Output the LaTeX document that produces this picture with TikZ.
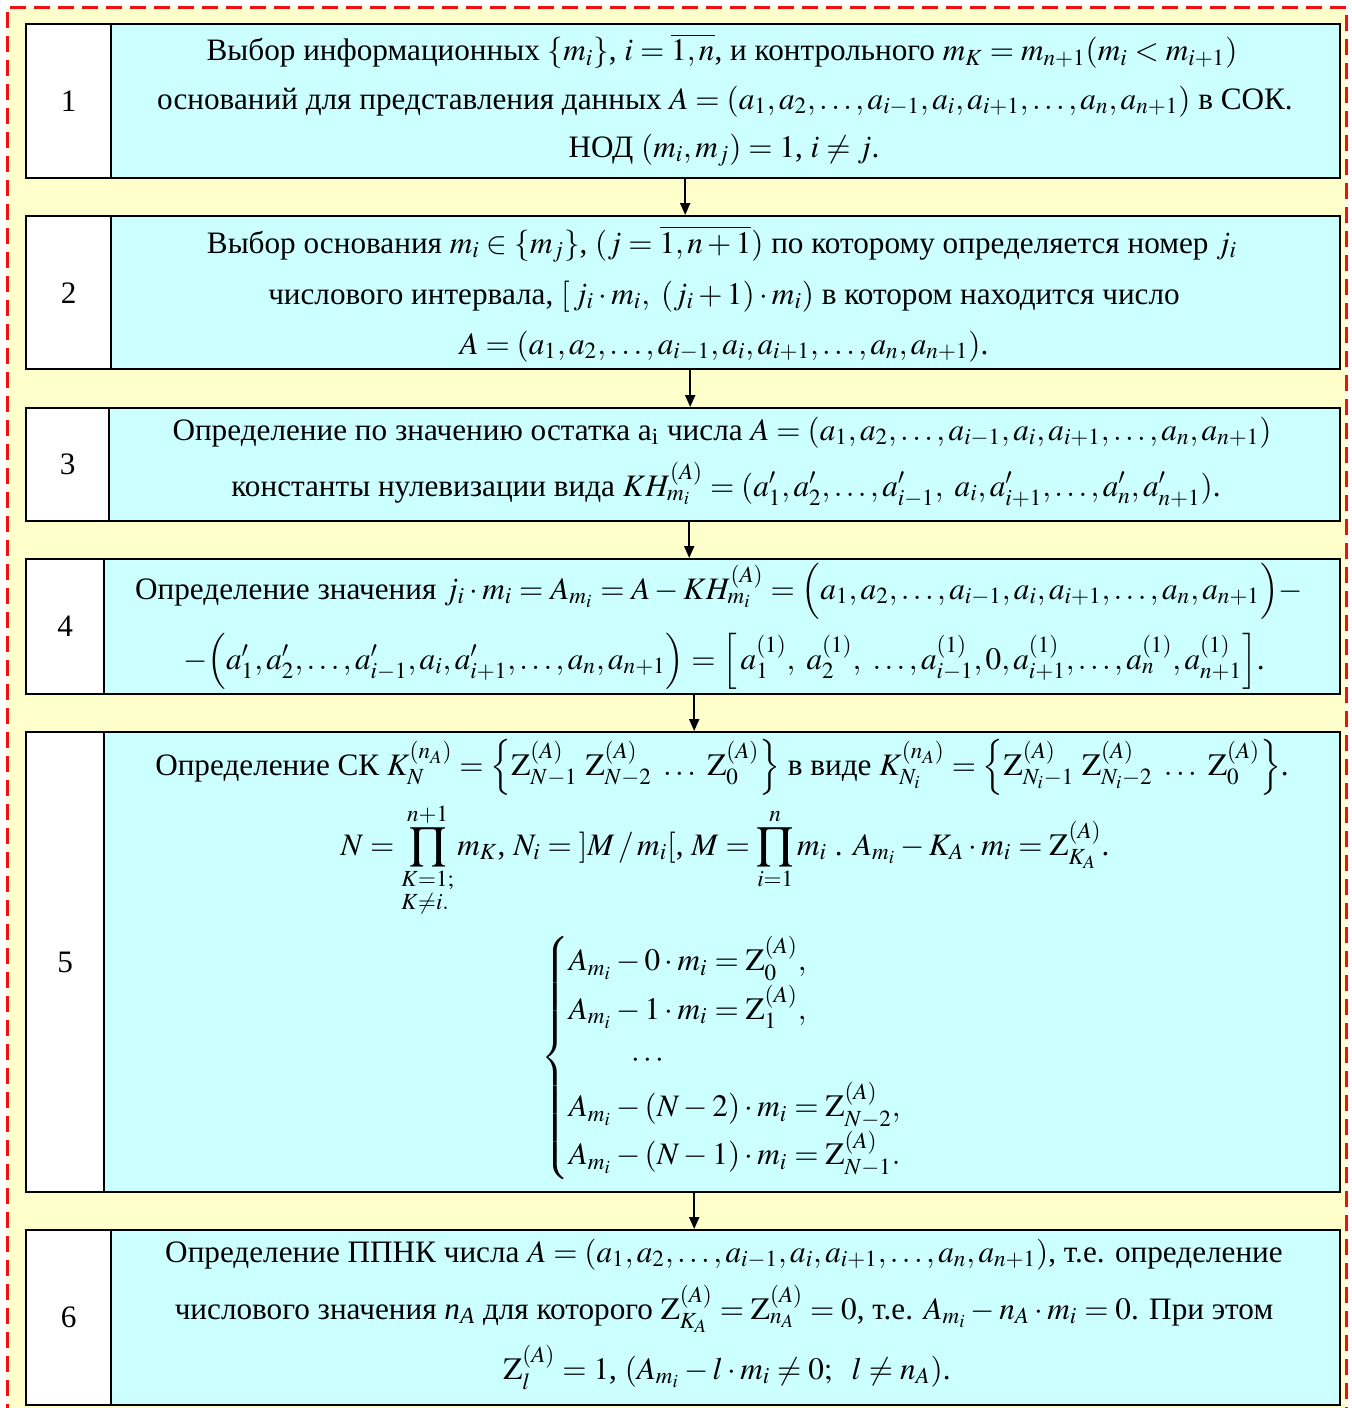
\documentclass[tikz,border=0pt]{standalone}
\usepackage{amsmath}
\usepackage{mathptmx}
\usepackage[no-math]{fontspec}
\setmainfont{Liberation Serif}
\usetikzlibrary{arrows.meta}
\definecolor{bgyellow}{HTML}{FFFFCC}
\definecolor{cellcyan}{HTML}{CCFFFF}
\definecolor{dashred}{HTML}{F01010}
\newcommand{\myZ}{\mathrm{Z}}
\tikzset{
  boxstyle/.style={draw=black, line width=1.2pt, fill=cellcyan, rectangle, inner sep=0pt, anchor=north west},
  numcell/.style={draw=black, line width=1.2pt, fill=white, rectangle, inner sep=0pt, anchor=north west, font=\fontsize{15.6}{18.7}\selectfont},
  txt/.style={inner sep=0pt, anchor=base, font=\fontsize{15.6}{18.7}\selectfont},
  arr/.style={line width=1pt, -{Triangle[width=5pt,length=6pt]}},
}
\begin{document}
\begin{tikzpicture}[x=0.5pt,y=-0.5pt]
\useasboundingbox (0,0) rectangle (1352,1408);
\clip (0,0) rectangle (1352,1408);
\fill[bgyellow] (7,7) rectangle (1346,1420);
\draw[dashred, line width=1.5pt, dash pattern=on 8pt off 4pt] (7,1420) -- (7,7) -- (1346,7) -- (1346,1420);

% boxes
\node[boxstyle, minimum width=657pt, minimum height=77pt] (b1) at (25,23) {};
\node[numcell, minimum width=42.5pt, minimum height=77pt] (n1) at (25,23) {1};
\node[boxstyle, minimum width=657pt, minimum height=76.5pt] (b2) at (25,215) {};
\node[numcell, minimum width=42.5pt, minimum height=76.5pt] (n2) at (25,215) {2};
\node[boxstyle, minimum width=657pt, minimum height=56.5pt] (b3) at (25,407) {};
\node[numcell, minimum width=41.5pt, minimum height=56.5pt] (n3) at (25,407) {3};
\node[boxstyle, minimum width=657pt, minimum height=67.5pt] (b4) at (25,558) {};
\node[numcell, minimum width=39pt, minimum height=67.5pt] (n4) at (25,558) {4};
\node[boxstyle, minimum width=657pt, minimum height=230pt] (b5) at (25,731) {};
\node[numcell, minimum width=39pt, minimum height=230pt] (n5) at (25,731) {5};
\node[boxstyle, minimum width=657pt, minimum height=87.5pt] (b6) at (25,1229) {};
\node[numcell, minimum width=42.5pt, minimum height=87.5pt] (n6) at (25,1229) {6};

% box 1 text
\node[txt] (t11) at (722,61) {Выбор информационных $\{m_i\}$, $i=\overline{1,n}$, и контрольного $m_K=m_{n+1}(m_i<m_{i+1})$};
\node[txt] (t12) at (725,109) {оснований для представления данных $A=(a_1,a_2,\ldots,a_{i-1},a_i,a_{i+1},\ldots,a_n,a_{n+1})$ в СОК.};
\node[txt] (t13) at (724,157) {НОД $(m_i,m_j)=1$, $i\neq j$.};

% box 2 text
\node[txt] (t21) at (722,253) {Выбор основания $m_i\in\{m_j\}$, $(j=\overline{1,n+1})$ по которому определяется номер $j_i$};
\node[txt] (t22) at (724,304) {числового интервала, $[\,j_i\cdot m_i,\ (j_i+1)\cdot m_i)$ в котором находится число};
\node[txt] (t23) at (724,354) {$A=(a_1,a_2,\ldots,a_{i-1},a_i,a_{i+1},\ldots,a_n,a_{n+1})$.};

% box 3 text
\node[txt] (t31) at (722,440) {Определение по значению остатка a\textsubscript{i} числа $A=(a_1,a_2,\ldots,a_{i-1},a_i,a_{i+1},\ldots,a_n,a_{n+1})$};
\node[txt] (t32) at (726,496) {константы нулевизации вида $KH_{m_i}^{(A)}=(a_1^{\prime},a_2^{\prime},\ldots,a_{i-1}^{\prime},\ a_i,a_{i+1}^{\prime},\ldots,a_n^{\prime},a_{n+1}^{\prime})$.};

% box 4 text
\node[txt] (t41) at (719,599) {Определение значения $j_i\cdot m_i=A_{m_i}=A-KH_{m_i}^{(A)}=\Big(a_1,a_2,\ldots,a_{i-1},a_i,a_{i+1},\ldots,a_n,a_{n+1}\Big)-$};
\node[txt] (t42) at (724,669) {$-\Big(a_1^{\prime},a_2^{\prime},\ldots,a_{i-1}^{\prime},a_i,a_{i+1}^{\prime},\ldots,a_n,a_{n+1}\Big)=\Big[\,a_1^{(1)},\ a_2^{(1)},\ \ldots,a_{i-1}^{(1)},0,a_{i+1}^{(1)},\ldots,a_n^{(1)},a_{n+1}^{(1)}\Big]$.};

% box 5 text
\node[txt] (t51) at (722,775) {Определение СК $K_N^{(n_A)}=\Big\{\myZ_{N-1}^{(A)}\ \myZ_{N-2}^{(A)}\ \ldots\ \myZ_0^{(A)}\Big\}$ в виде $K_{N_i}^{(n_A)}=\Big\{\myZ_{N_i-1}^{(A)}\ \myZ_{N_i-2}^{(A)}\ \ldots\ \myZ_0^{(A)}\Big\}$.};
\node[txt] (t52) at (725,855) {$\displaystyle N=\prod_{\begin{subarray}{l}K=1;\\K\neq i.\end{subarray}}^{n+1} m_K$, $N_i={]}M\,/\,m_i{[}$, $\displaystyle M=\prod_{i=1}^{n}m_i$ . $A_{m_i}-K_A\cdot m_i=\myZ_{K_A}^{(A)}$.};
\node[txt, anchor=center] (t53) at (722,1058) {\renewcommand{\arraystretch}{1.3}$\left\{\begin{array}{@{}l@{}}
A_{m_i}-0\cdot m_i=\myZ_0^{(A)},\\
A_{m_i}-1\cdot m_i=\myZ_1^{(A)},\\
\qquad\cdots\\
A_{m_i}-(N-2)\cdot m_i=\myZ_{N-2}^{(A)},\\
A_{m_i}-(N-1)\cdot m_i=\myZ_{N-1}^{(A)}.
\end{array}\right.$};

% box 6 text
\node[txt] (t61) at (724,1262) {Определение ППНК числа $A=(a_1,a_2,\ldots,a_{i-1},a_i,a_{i+1},\ldots,a_n,a_{n+1})$, т.е. определение};
\node[txt] (t62) at (724,1319) {числового значения \textit{n}\textsubscript{\textit{A}} для которого $\myZ_{K_A}^{(A)}=\myZ_{n_A}^{(A)}=0$, т.е. $A_{m_i}-n_A\cdot m_i=0$. При этом};
\node[txt] (t63) at (727,1379) {$\myZ_l^{(A)}=1$, $(A_{m_i}-l\cdot m_i\neq0;\ \ l\neq n_A)$.};

% arrows
\draw[arr] ([xshift=1pt]b1.south) -- ([xshift=1pt]b2.north);
\draw[arr] ([xshift=3.5pt]b2.south) -- ([xshift=3.5pt]b3.north);
\draw[arr] ([xshift=3pt]b3.south) -- ([xshift=3pt]b4.north);
\draw[arr] ([xshift=5.5pt]b4.south) -- ([xshift=5.5pt]b5.north);
\draw[arr] ([xshift=5.5pt]b5.south) -- ([xshift=5.5pt]b6.north);
\end{tikzpicture}
\end{document}
